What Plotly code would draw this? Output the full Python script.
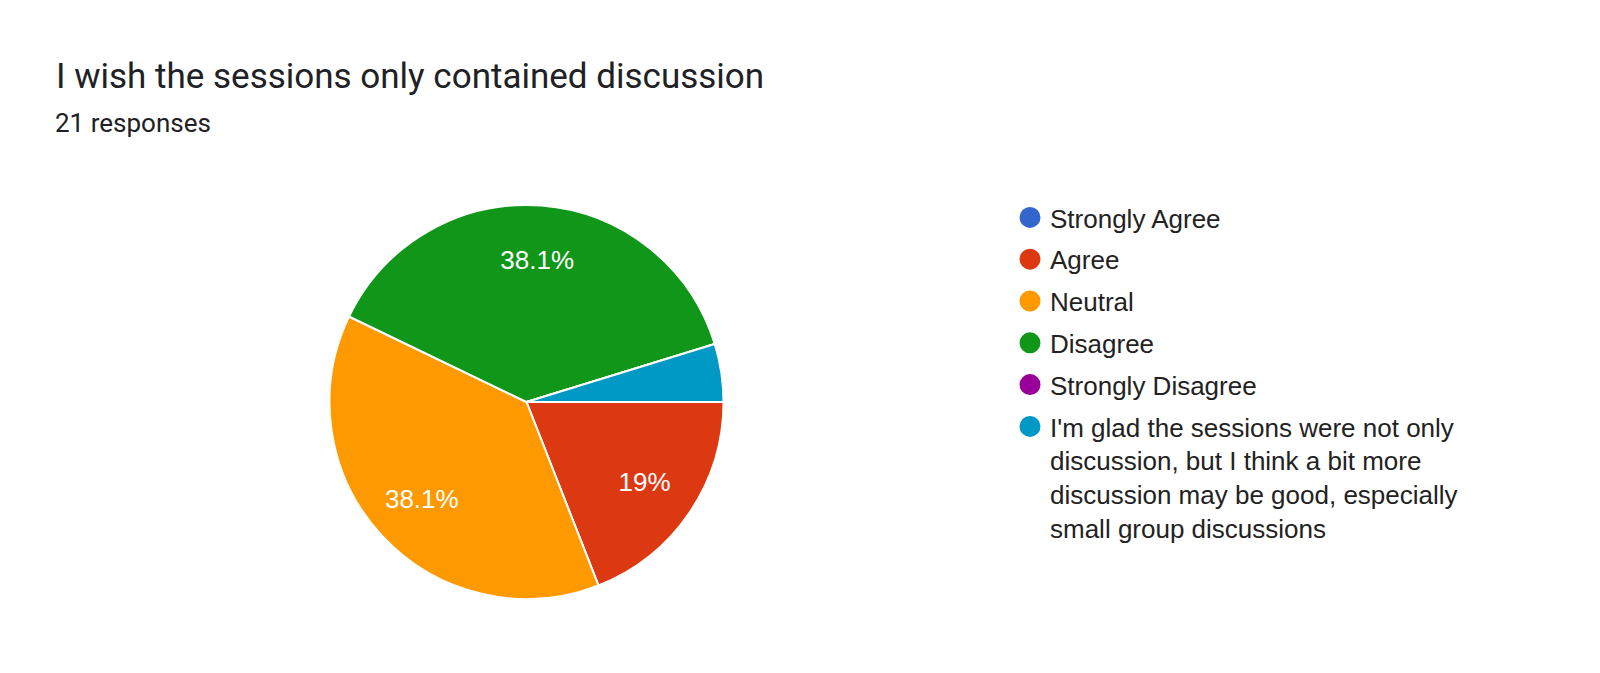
import plotly.graph_objects as go

title_text = "I wish the sessions only contained discussion"
subtitle_text = "21 responses"
labels = ["Strongly Agree", "Agree", "Neutral", "Disagree", "Strongly Disagree",
          "I'm glad the sessions were not only discussion, but I think a bit more discussion may be good, especially small group discussions"]
legend_labels = ["Strongly Agree", "Agree", "Neutral", "Disagree", "Strongly Disagree",
                 "I'm glad the sessions were not only<br>discussion, but I think a bit more<br>discussion may be good, especially<br>small group discussions"]
counts = [0, 4, 8, 8, 0, 1]
colors = ["#3366cc", "#dc3912", "#ff9900", "#109618", "#990099", "#0099c6"]

total = sum(counts)
texts = []
for c in counts:
    p = 100.0 * c / total
    if p < 5:
        texts.append("")
    else:
        s = f"{p:.1f}"
        if s.endswith(".0"):
            s = s[:-2]
        texts.append(s + "%")

W, H = 1600, 673
cx, cy, r = 518.5, 394, 197
dom = dict(x=[(cx - r) / W, (cx + r) / W], y=[1 - (cy + r) / H, 1 - (cy - r) / H])

fig = go.Figure()
# coloured slices
fig.add_trace(go.Pie(
    labels=labels, values=counts, textinfo="none",
    marker=dict(colors=colors, line=dict(color="white", width=2)),
    sort=False, direction="clockwise", rotation=90,
    showlegend=False, hoverinfo="label+percent", domain=dom,
))
# transparent ring carrying the percentage labels
fig.add_trace(go.Pie(
    labels=labels, values=counts, text=texts, textinfo="text",
    textposition="inside", insidetextorientation="horizontal",
    textfont=dict(family="Liberation Sans, Arial", size=26, color="white"),
    marker=dict(colors=["rgba(0,0,0,0)"] * len(counts), line=dict(width=0)),
    sort=False, direction="clockwise", rotation=90, hole=0.45,
    showlegend=False, hoverinfo="skip", domain=dom,
))
for lab, col in zip(legend_labels, colors):
    fig.add_trace(go.Scatter(
        x=[None], y=[None], mode="markers", name=lab,
        marker=dict(color=col, size=16, symbol="circle", line=dict(color=col, width=5)),
        legendgroup=lab, showlegend=True,
    ))

fig.update_layout(
    width=W, height=H,
    margin=dict(l=0, r=0, t=0, b=0),
    paper_bgcolor="white", plot_bgcolor="white",
    xaxis=dict(visible=False), yaxis=dict(visible=False),
    legend=dict(
        x=1002 / W, y=1 - 186 / H, xanchor="left", yanchor="top",
        font=dict(family="Liberation Sans, Arial", size=26, color="#222222"),
        valign="top", tracegroupgap=5, itemsizing="trace",
        bgcolor="rgba(0,0,0,0)",
    ),
    annotations=[
        dict(text=title_text, x=46 / W, y=1 - 69 / H, xref="paper", yref="paper",
             xanchor="left", yanchor="middle", showarrow=False,
             font=dict(family="Roboto", size=35, color="#202124")),
        dict(text=subtitle_text, x=45 / W, y=1 - 115 / H, xref="paper", yref="paper",
             xanchor="left", yanchor="middle", showarrow=False,
             font=dict(family="Roboto", size=26, color="#202124")),
    ],
)
fig.write_html("out.html")
